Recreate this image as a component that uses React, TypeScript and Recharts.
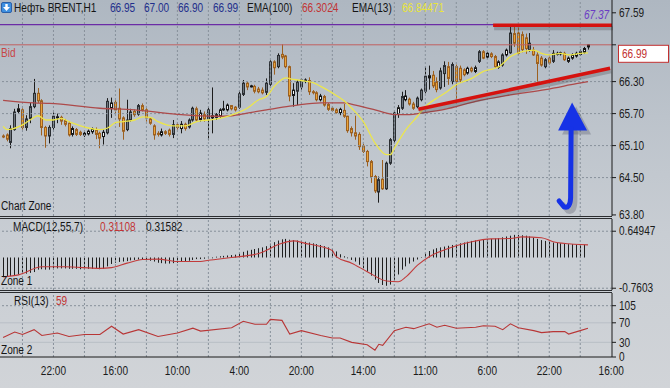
import React from 'react';
import { ComposedChart, Bar, Line, XAxis, YAxis, ReferenceLine } from 'recharts';

// ---------- DATA ----------
// OHLC per H1 candle [open, high, low, close]
const candles: [number, number, number, number][] = [
  [65.28, 65.31, 65.24, 65.27], [65.30, 65.33, 65.18, 65.22], [65.16, 65.48, 65.05, 65.42], [65.40, 65.79, 65.38, 65.73],
  [65.74, 65.88, 65.70, 65.79], [65.77, 65.80, 65.40, 65.44], [65.44, 65.67, 65.38, 65.60], [65.61, 65.90, 65.52, 65.83],
  [65.83, 66.35, 65.80, 66.08], [66.08, 66.18, 65.90, 65.94], [65.94, 65.97, 65.29, 65.44], [65.44, 65.47, 65.06, 65.28],
  [65.28, 65.48, 65.14, 65.44], [65.44, 65.72, 65.40, 65.65], [65.62, 65.70, 65.52, 65.64], [65.63, 65.66, 65.49, 65.56],
  [65.57, 65.60, 65.46, 65.50], [65.52, 65.56, 65.27, 65.30], [65.31, 65.46, 65.27, 65.42], [65.40, 65.43, 65.28, 65.31],
  [65.35, 65.38, 65.28, 65.31], [65.30, 65.36, 65.26, 65.33], [65.32, 65.40, 65.29, 65.37], [65.36, 65.44, 65.32, 65.41],
  [65.40, 65.44, 65.22, 65.31], [65.33, 65.36, 65.05, 65.24], [65.27, 65.40, 65.12, 65.35], [65.34, 65.99, 65.31, 65.93],
  [65.80, 66.00, 65.62, 65.90], [65.91, 65.95, 65.70, 65.77], [65.80, 66.17, 65.45, 65.60], [65.62, 65.65, 65.21, 65.37],
  [65.40, 65.96, 65.37, 65.58], [65.58, 65.79, 65.55, 65.73], [65.74, 65.78, 65.64, 65.68], [65.69, 65.88, 65.66, 65.85],
  [65.85, 65.89, 65.74, 65.77], [65.77, 65.80, 65.55, 65.62], [65.60, 65.63, 65.49, 65.52], [65.47, 65.50, 65.21, 65.30],
  [65.33, 65.37, 65.27, 65.31], [65.30, 65.42, 65.27, 65.36], [65.36, 65.39, 65.30, 65.33], [65.39, 65.42, 65.27, 65.31],
  [65.31, 65.58, 65.24, 65.49], [65.49, 65.53, 65.40, 65.44], [65.42, 65.56, 65.33, 65.50], [65.50, 65.53, 65.38, 65.42],
  [65.45, 65.61, 65.42, 65.58], [65.58, 65.83, 65.55, 65.80], [65.79, 65.83, 65.55, 65.58], [65.59, 65.77, 65.55, 65.71],
  [65.68, 65.74, 65.55, 65.60], [65.60, 65.83, 65.20, 65.77], [65.62, 66.19, 65.33, 65.66], [65.63, 65.71, 65.58, 65.68],
  [65.65, 65.80, 65.62, 65.77], [65.77, 65.94, 65.75, 65.79], [65.77, 65.89, 65.74, 65.86], [65.85, 65.86, 65.76, 65.79],
  [65.82, 65.84, 65.74, 65.77], [65.82, 66.13, 65.79, 66.07], [66.06, 66.33, 66.03, 66.27], [66.27, 66.30, 66.14, 66.20],
  [66.21, 66.24, 66.19, 66.22], [66.21, 66.24, 66.08, 66.12], [66.16, 66.20, 66.08, 66.11], [66.14, 66.19, 66.06, 66.09],
  [66.10, 66.36, 66.05, 66.27], [66.25, 66.70, 66.22, 66.67], [66.67, 66.70, 66.43, 66.56], [66.58, 66.83, 66.55, 66.79],
  [66.81, 67.00, 66.72, 66.76], [66.78, 66.80, 66.55, 66.58], [66.58, 66.60, 65.93, 66.03], [66.04, 66.27, 65.83, 66.14],
  [66.12, 66.33, 65.86, 66.29], [66.20, 66.36, 66.15, 66.33], [66.31, 66.36, 66.27, 66.33], [66.32, 66.38, 66.05, 66.11],
  [66.11, 66.14, 66.06, 66.10], [66.09, 66.12, 65.93, 65.96], [65.96, 66.07, 65.93, 66.03], [66.02, 66.05, 65.83, 65.86],
  [65.87, 65.90, 65.75, 65.78], [65.80, 65.83, 65.73, 65.76], [65.77, 65.80, 65.70, 65.72], [65.72, 65.81, 65.67, 65.78],
  [65.76, 65.88, 65.62, 65.65], [65.65, 65.66, 65.34, 65.38], [65.42, 65.46, 65.27, 65.34], [65.34, 65.66, 65.21, 65.28],
  [65.31, 65.35, 65.02, 65.08], [65.09, 65.13, 64.96, 64.99], [64.99, 65.02, 64.71, 64.80], [64.80, 64.83, 64.40, 64.52],
  [64.52, 64.55, 64.21, 64.25], [64.23, 64.52, 64.03, 64.46], [64.47, 64.83, 64.27, 64.29], [64.29, 64.80, 64.27, 64.77],
  [64.77, 65.24, 64.74, 65.21], [65.20, 65.74, 65.15, 65.71], [65.70, 65.86, 65.62, 65.81], [65.80, 66.11, 65.77, 66.02],
  [65.96, 66.14, 65.93, 66.03], [65.97, 66.00, 65.85, 65.88], [65.88, 65.92, 65.77, 65.80], [65.83, 66.02, 65.80, 65.99],
  [65.96, 66.17, 65.93, 66.14], [66.12, 66.58, 66.08, 66.40], [66.37, 66.60, 66.15, 66.41], [66.42, 66.50, 66.18, 66.22],
  [66.30, 66.38, 66.10, 66.15], [66.18, 66.56, 66.15, 66.50], [66.45, 66.68, 66.20, 66.60], [66.58, 66.67, 66.24, 66.36],
  [66.30, 66.66, 66.25, 66.62], [66.58, 66.62, 65.96, 66.30], [66.55, 66.60, 66.28, 66.33], [66.52, 66.55, 66.40, 66.43],
  [66.46, 66.58, 66.43, 66.55], [66.55, 66.58, 66.47, 66.50], [66.49, 66.60, 66.46, 66.56], [66.68, 66.89, 66.65, 66.86],
  [66.86, 66.89, 66.72, 66.74], [66.76, 66.85, 66.73, 66.83], [66.82, 66.85, 66.74, 66.77], [66.77, 66.80, 66.56, 66.58],
  [66.57, 66.70, 66.54, 66.67], [66.61, 66.83, 66.58, 66.80], [66.80, 66.92, 66.77, 66.89], [66.84, 67.33, 66.82, 67.21],
  [67.20, 67.34, 66.95, 67.02], [67.21, 67.33, 66.80, 66.83], [67.18, 67.24, 66.85, 66.90], [67.12, 67.20, 66.82, 66.92],
  [66.89, 67.21, 66.86, 67.02], [66.89, 66.95, 66.78, 66.80], [66.80, 66.85, 66.30, 66.64], [66.74, 66.78, 66.58, 66.61],
  [66.58, 66.74, 66.55, 66.71], [66.74, 66.77, 66.62, 66.65], [66.68, 66.89, 66.65, 66.83], [66.82, 66.86, 66.79, 66.83],
  [66.82, 66.86, 66.79, 66.84], [66.83, 66.86, 66.69, 66.71], [66.68, 66.77, 66.65, 66.74], [66.74, 66.83, 66.71, 66.80],
  [66.78, 66.86, 66.75, 66.83], [66.81, 66.90, 66.78, 66.86], [66.85, 66.95, 66.82, 66.92], [66.95, 67.00, 66.90, 66.99],
];

// EMA(13) readings [candle index, value]
const ema13: [number, number][] = [
  [0, 65.46], [1, 65.40], [5, 65.49], [7, 65.58], [9, 65.66], [11, 65.58], [13, 65.58], [15, 65.61], [17, 65.55],
  [20, 65.47], [22, 65.43], [25, 65.40], [27, 65.43], [29, 65.53], [31, 65.55], [34, 65.58], [36, 65.64], [38, 65.63],
  [40, 65.55], [44, 65.47], [47, 65.47], [50, 65.55], [53, 65.58], [56, 65.61], [60, 65.70], [63, 65.80], [66, 65.96],
  [68, 66.02], [70, 66.21], [73, 66.37], [75, 66.34], [78, 66.31], [80, 66.28], [82, 66.21], [84, 66.13], [86, 66.04],
  [88, 65.94], [90, 65.80], [93, 65.55], [96, 65.15], [99, 64.93], [100, 64.93], [101, 65.05], [104, 65.40], [107, 65.65],
  [109, 65.83], [112, 65.99], [114, 66.08], [117, 66.24], [121, 66.36], [124, 66.49], [127, 66.55], [128, 66.58],
  [131, 66.77], [134, 66.86], [137, 66.89], [139, 66.83], [141, 66.80], [144, 66.83], [146, 66.80], [149, 66.83], [151, 66.84],
];

// EMA(100) readings [candle index, value]
const ema100: [number, number][] = [
  [0, 65.95], [8, 65.90], [12, 65.89], [25, 65.80], [34, 65.77], [38, 65.74], [46, 65.68], [55, 65.65], [59, 65.66],
  [63, 65.71], [68, 65.77], [74, 65.84], [76, 65.86], [82, 65.90], [88, 65.90], [91, 65.86], [96, 65.77], [99, 65.71],
  [101, 65.68], [105, 65.68], [108, 65.71], [114, 65.78], [122, 65.93], [131, 66.05], [140, 66.15], [148, 66.26], [151, 66.30],
];

// MACD(12,55,7) histogram, one value per candle
const macdHist: number[] = [
  -0.48, -0.47, -0.46, -0.44, -0.42, -0.41, -0.40, -0.38, -0.36, -0.30, -0.29, -0.30, -0.30, -0.28, -0.27, -0.27,
  -0.27, -0.28, -0.28, -0.28, -0.29, -0.29, -0.28, -0.28, -0.28, -0.29, -0.28, -0.22, -0.16, -0.13, -0.11, -0.10,
  -0.09, -0.07, -0.06, -0.05, -0.04, -0.05, -0.08, -0.10, -0.13, -0.14, -0.15, -0.15, -0.14, -0.13, -0.10, -0.09,
  -0.08, -0.06, -0.04, -0.04, -0.03, -0.02, -0.02, 0.02, 0.03, 0.04, 0.05, 0.06, 0.07, 0.10, 0.14, 0.17, 0.19,
  0.21, 0.23, 0.25, 0.28, 0.34, 0.38, 0.42, 0.45, 0.46, 0.44, 0.43, 0.42, 0.40, 0.39, 0.37, 0.35, 0.33, 0.31, 0.28,
  0.25, 0.21, 0.15, 0.08, 0.03, -0.02, -0.06, -0.10, -0.18, -0.26, -0.35, -0.45, -0.55, -0.63, -0.68, -0.70, -0.67,
  -0.55, -0.42, -0.30, -0.22, -0.15, -0.10, -0.05, 0.00, 0.10, 0.16, 0.20, 0.23, 0.25, 0.27, 0.29, 0.31, 0.33, 0.35,
  0.37, 0.39, 0.41, 0.42, 0.43, 0.44, 0.45, 0.46, 0.47, 0.48, 0.50, 0.52, 0.54, 0.56, 0.56, 0.55, 0.54, 0.52, 0.49,
  0.46, 0.43, 0.41, 0.39, 0.37, 0.36, 0.35, 0.34, 0.33, 0.33, 0.32, 0.32, 0.316,
];

// MACD signal line readings [candle index, value]
const macdSignal: [number, number][] = [
  [0, -0.48], [4, -0.43], [10, -0.23], [16, -0.23], [25, -0.27], [28, -0.25], [32, -0.14], [36, -0.05], [40, -0.04],
  [45, -0.10], [51, -0.10], [53, -0.07], [59, 0.0], [66, 0.10], [72, 0.35], [75, 0.41], [78, 0.35], [82, 0.27],
  [85, 0.17], [86, 0.02], [90, -0.14], [94, -0.35], [99, -0.58], [102, -0.60], [104, -0.48], [107, -0.19], [110, 0.02],
  [114, 0.19], [117, 0.29], [121, 0.39], [126, 0.46], [131, 0.47], [134, 0.51], [139, 0.49], [142, 0.39], [146, 0.34],
  [149, 0.32], [151, 0.311],
];

// RSI(13) readings [candle index, value]
const rsi: [number, number][] = [
  [0, 40], [3, 51], [5, 46], [8, 56], [10, 44], [14, 49], [17, 42], [21, 46], [25, 46], [28, 63], [31, 47], [35, 56],
  [40, 42], [45, 49], [49, 59], [51, 53], [59, 60], [62, 73], [65, 67], [68, 67], [69, 77], [72, 75], [74, 47], [77, 54],
  [82, 44], [85, 39], [87, 39], [90, 30], [94, 25], [96, 14], [97, 26], [98, 24], [101, 54], [104, 61], [106, 58],
  [110, 68], [112, 61], [114, 65], [117, 59], [122, 61], [124, 64], [127, 63], [129, 56], [131, 68], [133, 60],
  [137, 54], [139, 50], [142, 52], [145, 52], [146, 47], [149, 54], [151, 59],
];

const timeTicks = [13, 29, 45, 61, 77, 93, 109, 125, 141, 157];
const timeLabels = ['22:00', '16:00', '10:00', '4:00', '20:00', '14:00', '11:00', '6:00', '22:00', '16:00'];
const gridX = [5, 13, 21, 29, 37, 45, 53, 61, 69, 77, 85, 93, 101, 109, 117, 125, 133, 141, 149];
const priceTicks = [67.59, 66.99, 66.3, 65.7, 65.1, 64.5, 63.8];
const priceGrid = [66.3, 65.7, 65.1, 64.5];
const macdTicks = [0.64947, -0.7603];
const rsiTicks = [0, 30, 70, 105];

const bidPrice = 66.99;
const levelPrice = 67.37;
const quote = ['66.95', '67.00', '66.90', '66.99'];
const ema100Last = '66.3024';
const ema13Last = '66.84471';
const macdLast = ['0.31108', '0.31582'];
const rsiLast = '59';
// drawn objects: [index, price]
const resistance: [number, number][] = [[126.5, 67.355], [157.2, 67.355]];
const trendLine: [number, number][] = [[107.2, 65.78], [156.7, 66.55]];
const arrow: [number, number][] = [[146.9, 65.91], [146.9, 63.93]];

// ---------- BUILD ROWS ----------
type Row = { [k: string]: any };
const rows: Row[] = candles.map(([o, h, l, c], i) => ({ i, o, h, l, c, range: [l, h], macd: macdHist[i] }));
ema13.forEach(([i, v]) => { rows[i].ema13 = v; });
ema100.forEach(([i, v]) => { rows[i].ema100 = v; });
macdSignal.forEach(([i, v]) => { rows[i].signal = v; });
rsi.forEach(([i, v]) => { rows[i].rsi = v; });

const X_DOMAIN: [number, number] = [-0.8, 157.2];
const FONT = "'Liberation Sans', Arial, sans-serif";
const FS = 12;
const SX = 0.84;
const GRID = '#87909a';
const AXIS = '#1b1b1b';

// ---------- SHAPES ----------
function CandleShape(props: any) {
  const { x, y, width, height, payload } = props;
  if (!payload || x == null || y == null) return null;
  const { o, h, l, c } = payload;
  const top = Math.min(y, y + height);
  const full = Math.abs(height);
  const span = h - l;
  const py = (p: number) => (span > 0 ? top + ((h - p) / span) * full : top);
  const cx = Math.round(x + width / 2) + 0.5;
  const bull = c >= o;
  const bTop = py(Math.max(o, c));
  const bBot = py(Math.min(o, c));
  const bh = Math.max(1, bBot - bTop);
  let fill = '#eaa43a';
  let stroke = '#9c6020';
  if (bull) {
    if (c - o < 0.12) { fill = '#f6f6f6'; stroke = '#141414'; }
    else { fill = '#6f767d'; stroke = '#2a2e32'; }
  }
  return (
    <g>
      <line x1={cx} x2={cx} y1={top} y2={top + full} stroke={bull ? '#1c1c1c' : '#9c6020'} strokeWidth={1} />
      <rect x={cx - 1} y={bTop} width={2} height={bh} fill={fill} stroke={stroke} strokeWidth={1} />
    </g>
  );
}

function HistShape(props: any) {
  const { x, y, width, height } = props;
  if (x == null || y == null) return null;
  const top = Math.min(y, y + height);
  const hh = Math.abs(height);
  return <rect x={Math.round(x + width / 2)} y={top} width={1} height={Math.max(hh, 0.5)} fill="#1e1e1e" />;
}

function thickShape(props: any) {
  const { x1, y1, x2, y2 } = props;
  if (x1 == null) return null;
  return (
    <g>
      <line x1={x1 + 1} y1={y1 + 3} x2={x2 + 1} y2={y2 + 3} stroke="rgba(60,60,70,0.28)" strokeWidth={4} />
      <line x1={x1} y1={y1} x2={x2} y2={y2} stroke="#d5120f" strokeWidth={3.5} />
    </g>
  );
}

function arrowShape(props: any) {
  const { x1, y1, y2 } = props;
  if (x1 == null) return null;
  const tx = x1;
  const ty = Math.min(y1, y2);
  const by = Math.max(y1, y2);
  const head = `M${tx},${ty} L${tx + 15},${ty + 28} L${tx - 14},${ty + 28} Z`;
  const shaft = `M${tx - 1},${ty + 26} L${tx - 1.5},${by - 10} Q${tx - 2},${by + 1} ${tx - 8},${by - 1} L${tx - 13},${by - 7}`;
  return (
    <g>
      <path d={head} fill="rgba(50,50,70,0.25)" transform="translate(4,4)" />
      <path d={shaft} fill="none" stroke="rgba(50,50,70,0.25)" strokeWidth={5.5} strokeLinecap="round" transform="translate(4,4)" />
      <path d={head} fill="#1632e6" />
      <path d={shaft} fill="none" stroke="#1632e6" strokeWidth={5} strokeLinecap="round" strokeLinejoin="round" />
    </g>
  );
}

function NText({ x, y, anchor = 'start', dy = '0.35em', fill = AXIS, children }: any) {
  return (
    <text transform={`translate(${x},${y}) scale(${SX},1)`} dy={dy} textAnchor={anchor} fill={fill} fontSize={FS} fontFamily={FONT}>
      {children}
    </text>
  );
}

function PriceTick(props: any) {
  const { x, y, payload } = props;
  const v = payload.value as number;
  if (Math.abs(v - bidPrice) < 1e-6) {
    return (
      <g>
        <rect x={x + 0.5} y={y + 0.5} width={50} height={17} fill="#ffffff" stroke="#c23030" strokeWidth={1} />
        <NText x={x + 4} y={y + 9} fill="#c23030">{v.toFixed(2)}</NText>
      </g>
    );
  }
  return <NText x={x + 1} y={y}>{v.toFixed(2)}</NText>;
}

function PlainTick(props: any) {
  const { x, y, payload } = props;
  return <NText x={x + 1} y={y}>{String(payload.value)}</NText>;
}

function TimeTick(props: any) {
  const { x, y, payload } = props;
  const idx = timeTicks.indexOf(payload.value);
  return <NText x={x} y={y + 1} anchor="middle" dy="0.75em">{timeLabels[idx]}</NText>;
}

// ---------- TEXT OVERLAYS ----------
function Txt({ x, y, color = '#151515', italic = false, children }: any) {
  return (
    <div style={{ position: 'absolute', left: x, top: y - 8, height: 16, lineHeight: '16px', fontSize: FS, fontFamily: FONT, color, fontStyle: italic ? 'italic' : 'normal', whiteSpace: 'nowrap', pointerEvents: 'none', transform: `scaleX(${SX})`, transformOrigin: 'left center' }}>
      {children}
    </div>
  );
}

function Sep({ y }: { y: number }) {
  return <div style={{ position: 'absolute', left: 0, top: y, width: 612, height: 1, background: '#2b2d30' }} />;
}

export default function App() {
  const yAxisCommon = {
    orientation: 'right' as const,
    width: 58,
    allowDataOverflow: true,
    axisLine: { stroke: AXIS },
    tickLine: { stroke: AXIS },
    tickSize: 4,
    interval: 0 as const,
  };
  const lineCommon = { dot: false, activeDot: false, connectNulls: true, isAnimationActive: false } as const;
  return (
    <div style={{ position: 'absolute', left: 0, top: 0, width: 670, height: 388, overflow: 'hidden', background: 'linear-gradient(180deg,#aeb7c1 0%,#bcc3cb 30%,#c8cdd3 60%,#d1d4d8 100%)' }}>
      <style>{'.recharts-surface{overflow:visible}'}</style>
      {/* MAIN PANEL */}
      <div style={{ position: 'absolute', left: 0, top: 0 }}>
        <ComposedChart width={670} height={216} data={rows} margin={{ top: 0, right: 0, bottom: 0, left: 0 }}>
          <XAxis type="number" dataKey="i" domain={X_DOMAIN} hide allowDataOverflow />
          <YAxis {...yAxisCommon} domain={[63.78, 67.83]} ticks={priceTicks} tick={<PriceTick />} />
          {gridX.map((g) => <ReferenceLine key={'gx' + g} x={g} stroke={GRID} strokeDasharray="2 2" />)}
          {priceGrid.map((p) => <ReferenceLine key={'gy' + p} y={p} stroke={GRID} strokeDasharray="2 2" />)}
          <ReferenceLine y={levelPrice} stroke="#6b2ca6" strokeWidth={1.2} />
          <ReferenceLine y={bidPrice} stroke="#c06060" strokeWidth={1} />
          <Line type="monotone" dataKey="ema100" stroke="#ad4a4a" strokeWidth={1.3} {...lineCommon} />
          <Bar dataKey="range" barSize={3} shape={(p: any) => <CandleShape {...p} />} isAnimationActive={false} />
          <Line type="monotone" dataKey="ema13" stroke="#ece64c" strokeWidth={1.3} {...lineCommon} />
          <ReferenceLine segment={[{ x: trendLine[0][0], y: trendLine[0][1] }, { x: trendLine[1][0], y: trendLine[1][1] }]} shape={thickShape} ifOverflow="visible" />
          <ReferenceLine segment={[{ x: resistance[0][0], y: resistance[0][1] }, { x: resistance[1][0], y: resistance[1][1] }]} shape={thickShape} ifOverflow="visible" />
          <ReferenceLine segment={[{ x: arrow[0][0], y: arrow[0][1] }, { x: arrow[1][0], y: arrow[1][1] }]} shape={arrowShape} ifOverflow="visible" />
        </ComposedChart>
      </div>

      {/* MACD PANEL */}
      <div style={{ position: 'absolute', left: 0, top: 219 }}>
        <ComposedChart width={670} height={71} data={rows} margin={{ top: 0, right: 0, bottom: 0, left: 0 }}>
          <XAxis type="number" dataKey="i" domain={X_DOMAIN} hide allowDataOverflow />
          <YAxis {...yAxisCommon} domain={[-0.804, 0.952]} ticks={macdTicks} tick={<PlainTick />} />
          {gridX.map((g) => <ReferenceLine key={'mx' + g} x={g} stroke={GRID} strokeDasharray="2 2" />)}
          {macdTicks.map((p) => <ReferenceLine key={'my' + p} y={p} stroke={GRID} strokeDasharray="2 2" />)}
          <Bar dataKey="macd" barSize={1} shape={(p: any) => <HistShape {...p} />} isAnimationActive={false} />
          <Line type="monotone" dataKey="signal" stroke="#c23b3b" strokeWidth={1.1} {...lineCommon} />
        </ComposedChart>
      </div>

      {/* RSI PANEL */}
      <div style={{ position: 'absolute', left: 0, top: 293 }}>
        <ComposedChart width={670} height={95} data={rows} margin={{ top: 0, right: 0, bottom: 0, left: 0 }}>
          <XAxis type="number" dataKey="i" domain={X_DOMAIN} allowDataOverflow ticks={timeTicks} interval={0} height={31}
            axisLine={{ stroke: AXIS }} tickLine={false} tickSize={6} tick={<TimeTick />} />
          <YAxis {...yAxisCommon} domain={[0, 131]} ticks={rsiTicks} tick={<PlainTick />} />
          {gridX.map((g) => <ReferenceLine key={'rx' + g} x={g} stroke={GRID} strokeDasharray="2 2" />)}
          <ReferenceLine y={105} stroke={GRID} strokeDasharray="2 2" />
          <ReferenceLine y={70} stroke="#b9bfc6" />
          <ReferenceLine y={30} stroke="#b9bfc6" />
          <Line type="linear" dataKey="rsi" stroke="#b83636" strokeWidth={1.1} {...lineCommon} />
        </ComposedChart>
      </div>

      {/* separators */}
      <Sep y={216} />
      <Sep y={218} />
      <Sep y={290} />
      <Sep y={292} />

      {/* header */}
      <svg style={{ position: 'absolute', left: 1, top: 2 }} width={11} height={11}>
        <rect x={0.5} y={0.5} width={10} height={10} rx={1.5} fill="#3d8fe0" stroke="#2a5fa8" />
        <path d="M5.5,9 L2,5 L4.3,5 L4.3,2 L6.7,2 L6.7,5 L9,5 Z" fill="#ffffff" />
      </svg>
      <Txt x={14} y={8}>Нефть BRENT,H1</Txt>
      <Txt x={110} y={8} color="#1f2f8c">{quote[0]}</Txt>
      <Txt x={144} y={8} color="#1f2f8c">{quote[1]}</Txt>
      <Txt x={178} y={8} color="#1f2f8c">{quote[2]}</Txt>
      <Txt x={213} y={8} color="#1f2f8c">{quote[3]}</Txt>
      <Txt x={247} y={8}>EMA(100)</Txt>
      <Txt x={302} y={8} color="#c23434">{ema100Last}</Txt>
      <Txt x={352} y={8}>EMA(13)</Txt>
      <Txt x={402} y={8} color="#e8e43c">{ema13Last}</Txt>
      <Txt x={584} y={15} color="#6b3cc4" italic>{levelPrice.toFixed(2)}</Txt>
      <Txt x={1} y={53} color="#c84646">Bid</Txt>
      <Txt x={1} y={206}>Chart Zone</Txt>
      <Txt x={13} y={227}>MACD(12,55,7)</Txt>
      <Txt x={100} y={227} color="#c23434">{macdLast[0]}</Txt>
      <Txt x={146} y={227}>{macdLast[1]}</Txt>
      <Txt x={1} y={281}>Zone 1</Txt>
      <Txt x={14} y={301}>RSI(13)</Txt>
      <Txt x={56} y={301} color="#c23434">{rsiLast}</Txt>
      <Txt x={1} y={350}>Zone 2</Txt>
    </div>
  );
}
